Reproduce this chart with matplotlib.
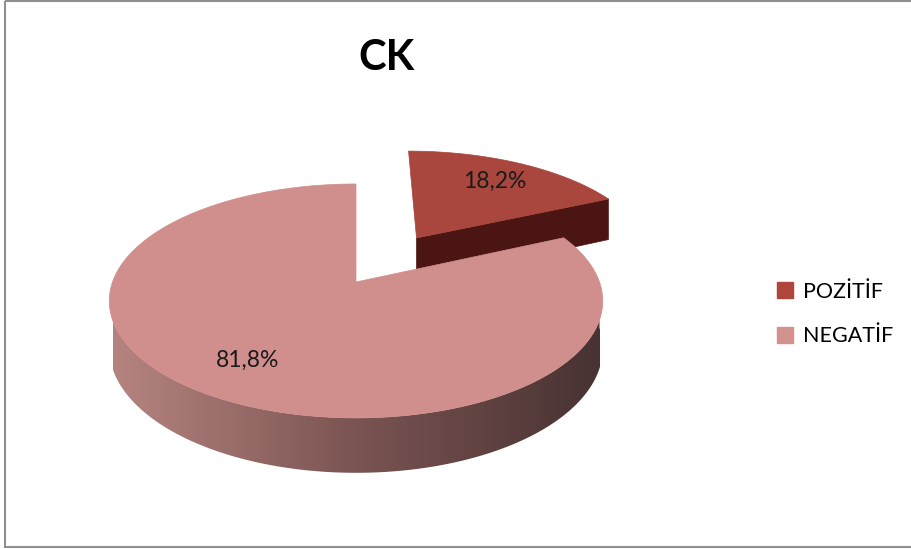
import numpy as np
import matplotlib.pyplot as plt
from matplotlib.patches import Polygon, Rectangle, Patch

plt.rcParams['font.family'] = ['Lato', 'DejaVu Sans']

title = 'CK'
labels = ['POZİTİF', 'NEGATİF']
values = [18.2, 81.8]
top_colors = ['#a9463d', '#d08e8c']
key_colors = ['#b0453b', '#d4928e']
wall_color = '#4a1512'
explode = [0.49, 0.0]

W, H = 911, 549
cx, cy = 356, 282       # centre of the disc, pixels
rx, ry = 243.5, 113.9   # half axes of the top face
tilt = 0.162            # perspective: far side drawn smaller
thick = 46              # disc thickness


def project(u, v, drop=0.0):
    s = 1 + tilt * v
    return cx + rx * u / s, cy - ry * v / s + drop / s


# side wall goes from light on the left to dark on the right
stops = np.array([[182, 132, 128], [122, 84, 82], [72, 50, 50]]) / 255
f = np.linspace(0, 1, 256)
wall_grad = np.stack([np.interp(f, [0, 0.5, 1], stops[:, k]) for k in range(3)], axis=-1)[None, :, :]

fig = plt.figure(figsize=(W / 100, H / 100), dpi=100)
ax = fig.add_axes([0, 0, 1, 1])
ax.set_xlim(0, W)
ax.set_ylim(H, 0)
ax.axis('off')

total = sum(values)
bounds = np.concatenate([[0], np.cumsum(values) / total * 360])
xl, xr = project(-1, 0)[0], project(1, 0)[0]

# back slice first so the big one covers it
order = sorted(range(len(values)), key=lambda i: -np.cos(np.radians((bounds[i] + bounds[i + 1]) / 2)) - explode[i])
for i in order:
    a0, a1 = bounds[i], bounds[i + 1]
    mid = np.radians((a0 + a1) / 2)
    eu, ev = explode[i] * np.sin(mid), explode[i] * np.cos(mid)
    th = np.radians(np.linspace(a0, a1, 300))
    au, av = np.sin(th) + eu, np.cos(th) + ev

    # radial cut face at the end of the slice
    if -np.sin(np.radians(a1)) < -0.05:
        t = np.radians(a1)
        pts = [project(eu, ev), project(np.sin(t) + eu, np.cos(t) + ev),
               project(np.sin(t) + eu, np.cos(t) + ev, thick), project(eu, ev, thick)]
        ax.add_patch(Polygon(pts, closed=True, fc=wall_color, ec=wall_color, lw=0.5))

    # outer wall on the front half, filled with a left-to-right gradient
    lo, hi = max(a0, 90), min(a1, 270)
    if hi > lo:
        ts = np.radians(np.linspace(lo, hi, 300))
        upper = [project(np.sin(t) + eu, np.cos(t) + ev) for t in ts]
        lower = [project(np.sin(t) + eu, np.cos(t) + ev, thick) for t in ts[::-1]]
        wall = Polygon(upper + lower, closed=True, fc='none', ec='none')
        ax.add_patch(wall)
        ys = [p[1] for p in upper + lower]
        img = ax.imshow(wall_grad, extent=(xl, xr, max(ys) + 2, min(ys) - 2),
                        aspect='auto', interpolation='bilinear', zorder=wall.get_zorder())
        img.set_clip_path(wall)

    top = [project(eu, ev)] + [project(u, v) for u, v in zip(au, av)]
    ax.add_patch(Polygon(top, closed=True, fc=top_colors[i], ec=top_colors[i], lw=0.5, zorder=1.5))

# percentage labels
for i in range(len(values)):
    mid = np.radians((bounds[i] + bounds[i + 1]) / 2)
    r = 0.74 + explode[i]
    lx, ly = project(r * np.sin(mid), r * np.cos(mid))
    ax.text(lx, ly, f'{values[i]:.1f}%'.replace('.', ','), ha='center', va='center',
            fontsize=16.5, color='#1a1a1a', zorder=3)

ax.text(386, 58, title, ha='center', va='center', fontsize=30, fontweight='bold')

handles = [Patch(fc=c, ec=c) for c in key_colors]
ax.legend(handles, labels, loc='center left', bbox_to_anchor=(760 / W, 1 - 314 / H),
          frameon=False, fontsize=15.5, handlelength=0.75, handleheight=0.75,
          handletextpad=0.45, labelspacing=1.15, borderpad=0.3)

ax.add_patch(Rectangle((5, 1), W, H - 3, fill=False, ec='#8f8f8f', lw=1.5, clip_on=False))

fig.savefig('out.png', dpi=100)
